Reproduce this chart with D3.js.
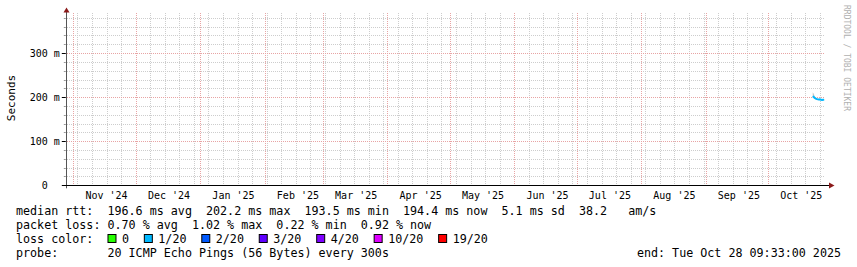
<!DOCTYPE html>
<html>
<head>
<meta charset="utf-8">
<script src="https://cdn.jsdelivr.net/npm/d3@7"></script>
<style>
  body { margin: 0; background: #fff; }
  svg text { font-family: "DejaVu Sans Mono", monospace; white-space: pre; }
</style>
</head>
<body>
<svg id="chart" width="857" height="267"></svg>
<script>
// median rtt samples (seconds) at the end of the period, one per 12h
var times = ["2025-10-22T12:00Z", "2025-10-23T00:00Z", "2025-10-23T12:00Z", "2025-10-24T00:00Z",
             "2025-10-24T12:00Z", "2025-10-25T00:00Z", "2025-10-25T12:00Z", "2025-10-26T00:00Z",
             "2025-10-26T12:00Z", "2025-10-27T00:00Z", "2025-10-27T12:00Z", "2025-10-28T00:00Z"];
var median = [0.2022, 0.2005, 0.1982, 0.1965, 0.1955, 0.1950, 0.1945, 0.1952, 0.1940, 0.1935, 0.1940, 0.1944];
var smokeHi = [0.2110, 0.2080, 0.2010, 0.1985, 0.1975, 0.1965, 0.1960, 0.1968, 0.1955, 0.1950, 0.1955, 0.1958];
var smokeLo = [0.1990, 0.1975, 0.1960, 0.1950, 0.1940, 0.1935, 0.1932, 0.1938, 0.1928, 0.1922, 0.1928, 0.1932];

var yTicks = [0, 0.1, 0.2, 0.3];
var lossLabels = ["0", "1/20", "2/20", "3/20", "4/20", "10/20", "19/20"];
var lossColors = ["#26ff00", "#00b8ff", "#0059ff", "#5e00ff", "#7e00ff", "#dd00ff", "#ff0000"];

var legendRows = [
  "median rtt:  196.6 ms avg  202.2 ms max  193.5 ms min  194.4 ms now  5.1 ms sd  38.2   am/s",
  "packet loss: 0.70 % avg  1.02 % max  0.22 % min  0.92 % now"
];
var probeText = "probe:       20 ICMP Echo Pings (56 Bytes) every 300s";
var endText = "end: Tue Oct 28 09:33:00 2025";

var endTime = new Date("2025-10-28T09:33:00Z");
var startTime = new Date(endTime.getTime() - 365 * 864e5);

var svg = d3.select("#chart");
svg.append("rect").attr("width", 857).attr("height", 267).attr("fill", "#fff");

var pLeft = 65.8, pRight = 825, pTop = 13, pBottom = 185.3;

var x = d3.scaleUtc().domain([startTime, endTime]).range([pLeft, pRight]);
var y = d3.scaleLinear().domain([0, 0.391]).range([pBottom, pTop]);

function py(d) { return Math.round(y(d)) + 0.5; }
function px(d) { return Math.round(x(d)) + 0.5; }

// grid
var grid = svg.append("g");
var minorY = d3.range(1, 20).map(function(i) { return i * 0.02; })
  .filter(function(v) { return Math.round(v * 100) % 10 != 0; });
grid.selectAll(".hmin").data(minorY).enter().append("line")
  .attr("x1", 67).attr("x2", pRight)
  .attr("y1", py).attr("y2", py)
  .attr("stroke", "#cdcdcd").attr("stroke-dasharray", "1,1");

var weeks = d3.utcSunday.range(startTime, endTime);
grid.selectAll(".vmin").data(weeks).enter().append("line")
  .attr("x1", px).attr("x2", px)
  .attr("y1", pTop).attr("y2", pBottom)
  .attr("stroke", "#cdcdcd").attr("stroke-dasharray", "1,1");

grid.selectAll(".hmaj").data(yTicks.slice(1)).enter().append("line")
  .attr("x1", 67).attr("x2", pRight)
  .attr("y1", py).attr("y2", py)
  .attr("stroke", "#e8a4a4").attr("stroke-dasharray", "1,1");

var months = d3.utcMonth.range(startTime, endTime);
grid.selectAll(".vmaj").data(months).enter().append("line")
  .attr("x1", px).attr("x2", px)
  .attr("y1", pTop).attr("y2", pBottom)
  .attr("stroke", "#e8a4a4").attr("stroke-dasharray", "1,1");

// smoke + median line
var pts = times.map(function(t, i) {
  return { t: new Date(t), m: median[i], hi: smokeHi[i], lo: smokeLo[i] };
});

svg.append("path").datum(pts)
  .attr("d", d3.area().x(function(d) { return x(d.t); })
    .y0(function(d) { return y(d.lo); }).y1(function(d) { return y(d.hi); }))
  .attr("fill", "#c8c8c8");

svg.append("path").datum(pts)
  .attr("d", d3.line().x(function(d) { return x(d.t); }).y(function(d) { return y(d.m); }))
  .attr("fill", "none").attr("stroke", lossColors[1]).attr("stroke-width", 2);

// y axis labels + ticks
var yAxis = svg.append("g").attr("transform", "translate(" + (pLeft - 6) + ",0)")
  .call(d3.axisLeft(y).tickValues(yTicks).tickSize(0).tickPadding(0)
    .tickFormat(function(v) { return v === 0 ? "0  " : Math.round(v * 1000) + " m"; }));
yAxis.select(".domain").remove();
yAxis.selectAll("text").attr("font-size", "10px").attr("fill", "#000")
  .attr("font-family", "DejaVu Sans Mono").attr("dy", "0.35em");

svg.selectAll(".ytk").data(yTicks).enter().append("line")
  .attr("x1", pLeft - 4).attr("x2", pLeft)
  .attr("y1", py).attr("y2", py)
  .attr("stroke", "#000");
svg.selectAll(".ytm").data(minorY).enter().append("line")
  .attr("x1", pLeft - 2).attr("x2", pLeft)
  .attr("y1", py).attr("y2", py)
  .attr("stroke", "#999");

// x axis month labels, centred inside each month
svg.selectAll(".xlab").data(months).enter().append("text")
  .attr("x", function(d) { return x(d3.utcHour.offset(d, 16 * 24)); })
  .attr("y", 198.5)
  .attr("text-anchor", "middle").attr("font-size", "10px").attr("fill", "#000")
  .text(d3.utcFormat("%b '%y"));

// axes lines with arrows
svg.append("line").attr("x1", 66.5).attr("x2", 66.5).attr("y1", pBottom + 3).attr("y2", 11)
  .attr("stroke", "#555");
svg.append("line").attr("x1", 62).attr("x2", 830).attr("y1", 185.5).attr("y2", 185.5)
  .attr("stroke", "#000");
svg.append("path").attr("d", "M63.5,12.5L69.5,12.5L66.5,7.5Z").attr("fill", "#8b1a1a");
svg.append("path").attr("d", "M829,182.5L829,188.5L834.5,185.5Z").attr("fill", "#8b1a1a");

svg.append("text")
  .attr("transform", "translate(15,98) rotate(-90)")
  .attr("text-anchor", "middle").attr("font-size", "11px").attr("fill", "#000")
  .text("Seconds");

svg.append("text")
  .attr("transform", "translate(844,5) rotate(90)")
  .attr("font-size", "8px").attr("fill", "#b0b0b0")
  .text("RRDTOOL / TOBI OETIKER");

// legend
var fs = "11.7px";
svg.selectAll(".leg").data(legendRows).enter().append("text")
  .attr("x", 16).attr("y", function(d, i) { return 215 + i * 14; })
  .attr("font-size", fs).attr("fill", "#000")
  .text(function(d) { return d; });

var lossRow = svg.append("g");
var head = lossRow.append("text").attr("x", 16).attr("y", 243)
  .attr("font-size", fs).attr("fill", "#000").text("loss color:  ");
var cx = 16 + head.node().getComputedTextLength();
lossLabels.forEach(function(lab, i) {
  lossRow.append("rect").attr("x", cx + 0.5).attr("y", 234.5).attr("width", 8).attr("height", 8)
    .attr("fill", lossColors[i]).attr("stroke", "#000");
  var t = lossRow.append("text").attr("x", cx + 14.5).attr("y", 243)
    .attr("font-size", fs).attr("fill", "#000").text(lab);
  cx = cx + 14.5 + t.node().getComputedTextLength() + 14.8;
});

svg.append("text").attr("x", 16).attr("y", 257).attr("font-size", fs).attr("fill", "#000")
  .text(probeText);
svg.append("text").attr("x", 841).attr("y", 257).attr("text-anchor", "end")
  .attr("font-size", fs).attr("fill", "#000").text(endText);
</script>
</body>
</html>
